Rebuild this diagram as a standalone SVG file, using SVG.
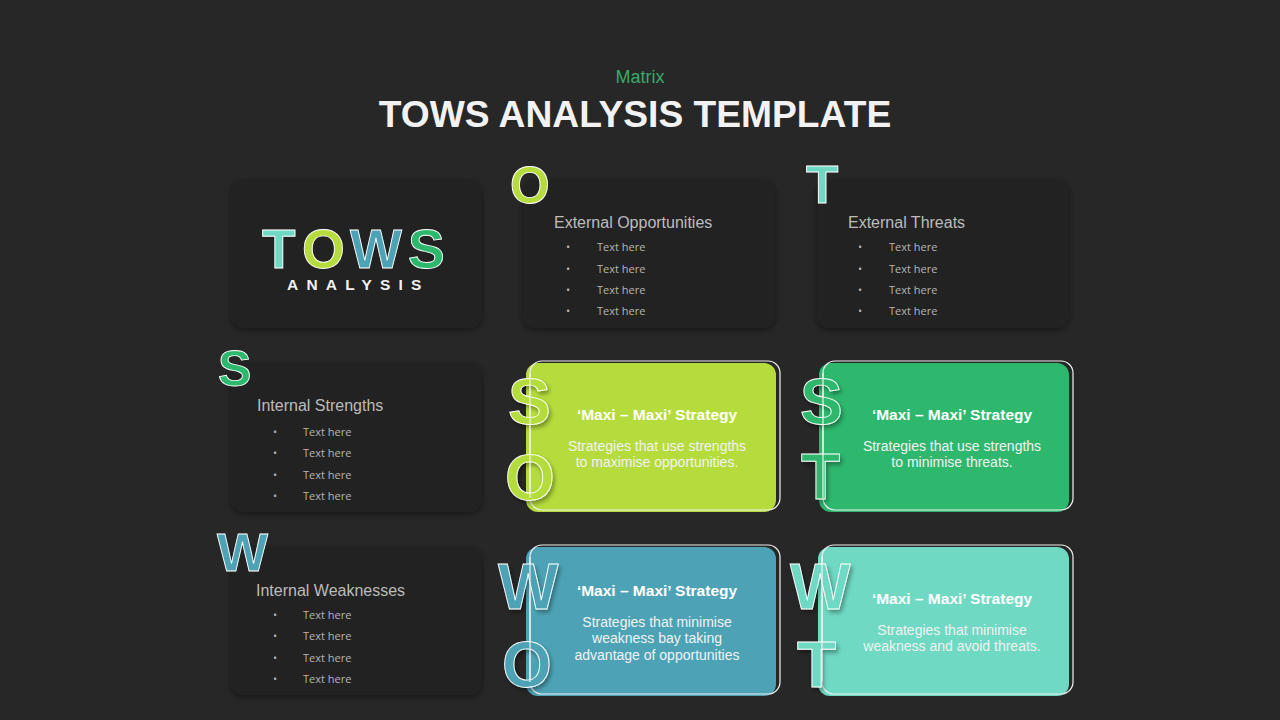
<svg xmlns="http://www.w3.org/2000/svg" width="1280" height="720" viewBox="0 0 1280 720">
<defs>
<filter id="sh" x="-10%" y="-10%" width="120%" height="125%">
<feDropShadow dx="0" dy="2" stdDeviation="3" flood-color="#000" flood-opacity="0.45"/>
</filter>
<filter id="lsh" x="-20%" y="-20%" width="140%" height="140%">
<feDropShadow dx="2" dy="3" stdDeviation="2" flood-color="#000" flood-opacity="0.35"/>
</filter>
<style>
.bg{fill:#272727}
.card{fill:#232323;filter:url(#sh)}
.hd{font-family:"Liberation Sans",Arial,sans-serif;font-size:16px;fill:#bcbcbc}
.bl{font-family:"Open Sans","Liberation Sans",sans-serif;font-size:11px;fill:#b5b5b5}
.big{font-family:"Liberation Sans",Arial,sans-serif;font-weight:bold;stroke:#ffffff;stroke-width:0.9}
.in{filter:url(#lsh)}
.ct{font-family:"Liberation Sans",Arial,sans-serif;font-weight:bold;font-size:15.5px;fill:#ffffff;text-anchor:middle}
.cb{font-family:"Liberation Sans",Arial,sans-serif;font-size:14px;fill:#f2f2f2;text-anchor:middle}
.frame{fill:none;stroke:#f0f0f0;stroke-width:1.2}
.vl{stroke:#f0f0f0;stroke-width:1.2}
</style>
</defs>
<rect class="bg" x="0" y="0" width="1280" height="720"/>

<g id="title">
<text x="640" y="83" text-anchor="middle" font-family="Liberation Sans, Arial, sans-serif" font-size="18" fill="#3aa76d">Matrix</text>
<text x="635" y="127" text-anchor="middle" font-family="Liberation Sans, Arial, sans-serif" font-weight="bold" font-size="37.2" fill="#f2f2f2">TOWS ANALYSIS TEMPLATE</text>
</g>

<g id="tows-logo">
<rect class="card" x="231" y="180" width="251" height="148" rx="12"/>
<g class="big" font-size="55">
<text x="262" y="268" fill="#6fd9c3">T</text>
<text x="302" y="268" fill="#b5dc3c">O</text>
<text x="350" y="268" fill="#4da3b5">W</text>
<text x="408" y="268" fill="#2db86e">S</text>
</g>
<text x="287" y="290" font-family="Liberation Sans, Arial, sans-serif" font-weight="bold" font-size="15.5" letter-spacing="8.2" fill="#f2f2f2">ANALYSIS</text>
</g>

<g id="ext-opportunities">
<rect class="card" x="523" y="180" width="252" height="148" rx="12"/>
<text class="big" x="510" y="203" font-size="51" fill="#b5dc3c">O</text>
<text class="hd" x="554" y="228">External  Opportunities</text>
<g class="bl">
<text x="566" y="251">•</text><text x="597" y="251">Text here</text>
<text x="566" y="273">•</text><text x="597" y="273">Text here</text>
<text x="566" y="294">•</text><text x="597" y="294">Text here</text>
<text x="566" y="315">•</text><text x="597" y="315">Text here</text>
</g>
</g>

<g id="ext-threats">
<rect class="card" x="817" y="180" width="252" height="148" rx="12"/>
<text class="big" x="806" y="203" font-size="53" fill="#6fd9c3">T</text>
<text class="hd" x="848" y="228">External  Threats</text>
<g class="bl">
<text x="858" y="251">•</text><text x="889" y="251">Text here</text>
<text x="858" y="273">•</text><text x="889" y="273">Text here</text>
<text x="858" y="294">•</text><text x="889" y="294">Text here</text>
<text x="858" y="315">•</text><text x="889" y="315">Text here</text>
</g>
</g>

<g id="int-strengths">
<rect class="card" x="231" y="363" width="251" height="149" rx="12"/>
<text class="big" x="218" y="386" font-size="50" fill="#2db86e">S</text>
<text class="hd" x="257" y="411">Internal  Strengths</text>
<g class="bl">
<text x="273" y="436">•</text><text x="303" y="436">Text here</text>
<text x="273" y="457">•</text><text x="303" y="457">Text here</text>
<text x="273" y="479">•</text><text x="303" y="479">Text here</text>
<text x="273" y="500">•</text><text x="303" y="500">Text here</text>
</g>
</g>

<g id="int-weaknesses">
<rect class="card" x="231" y="547" width="251" height="148" rx="12"/>
<text class="big" x="217" y="571" font-size="54" fill="#4da3b5">W</text>
<text class="hd" x="256" y="596">Internal  Weaknesses</text>
<g class="bl">
<text x="273" y="619">•</text><text x="303" y="619">Text here</text>
<text x="273" y="640">•</text><text x="303" y="640">Text here</text>
<text x="273" y="662">•</text><text x="303" y="662">Text here</text>
<text x="273" y="683">•</text><text x="303" y="683">Text here</text>
</g>
</g>

<g id="so">
<rect x="526" y="363" width="250" height="149" rx="12" fill="#b5dc3c"/>
<rect class="frame" x="530" y="361" width="250" height="149" rx="12"/>
<g class="big in" font-size="64">
<text x="508" y="424" fill="#b5dc3c">S</text>
<text x="505" y="500" fill="#b5dc3c">O</text>
</g>
<line class="vl" x1="530" y1="373" x2="530" y2="498"/>
<text class="ct" x="657" y="420">‘Maxi – Maxi’ Strategy</text>
<text class="cb" x="657" y="451">Strategies that use strengths</text>
<text class="cb" x="657" y="467">to maximise  opportunities.</text>
</g>

<g id="st">
<rect x="819" y="363" width="250" height="149" rx="12" fill="#2db86e"/>
<rect class="frame" x="823" y="361" width="250" height="149" rx="12"/>
<g class="big in" font-size="64">
<text x="800" y="424" fill="#2db86e">S</text>
<text x="801" y="499" fill="#2db86e">T</text>
</g>
<line class="vl" x1="823" y1="373" x2="823" y2="498"/>
<text class="ct" x="952" y="420">‘Maxi – Maxi’ Strategy</text>
<text class="cb" x="952" y="451">Strategies that use strengths</text>
<text class="cb" x="952" y="467">to minimise  threats.</text>
</g>

<g id="wo">
<rect x="526" y="547" width="250" height="149" rx="12" fill="#4da3b5"/>
<rect class="frame" x="530" y="545" width="250" height="149" rx="12"/>
<g class="big in" font-size="64">
<text x="498" y="609" fill="#4da3b5">W</text>
<text x="502" y="687" fill="#4da3b5">O</text>
</g>
<line class="vl" x1="530" y1="557" x2="530" y2="682"/>
<text class="ct" x="657" y="596">‘Maxi – Maxi’ Strategy</text>
<text class="cb" x="657" y="627">Strategies that minimise</text>
<text class="cb" x="657" y="643">weakness bay taking</text>
<text class="cb" x="657" y="660">advantage of opportunities</text>
</g>

<g id="wt">
<rect x="818" y="547" width="251" height="149" rx="12" fill="#6fd9c3"/>
<rect class="frame" x="822" y="545" width="251" height="149" rx="12"/>
<g class="big in" font-size="64">
<text x="790" y="609" fill="#6fd9c3">W</text>
<text x="797" y="687" fill="#6fd9c3">T</text>
</g>
<line class="vl" x1="822" y1="557" x2="822" y2="682"/>
<text class="ct" x="952" y="604">‘Maxi – Maxi’ Strategy</text>
<text class="cb" x="952" y="635">Strategies that minimise</text>
<text class="cb" x="952" y="651">weakness and avoid threats.</text>
</g>

<g id="connectors"></g>
</svg>
